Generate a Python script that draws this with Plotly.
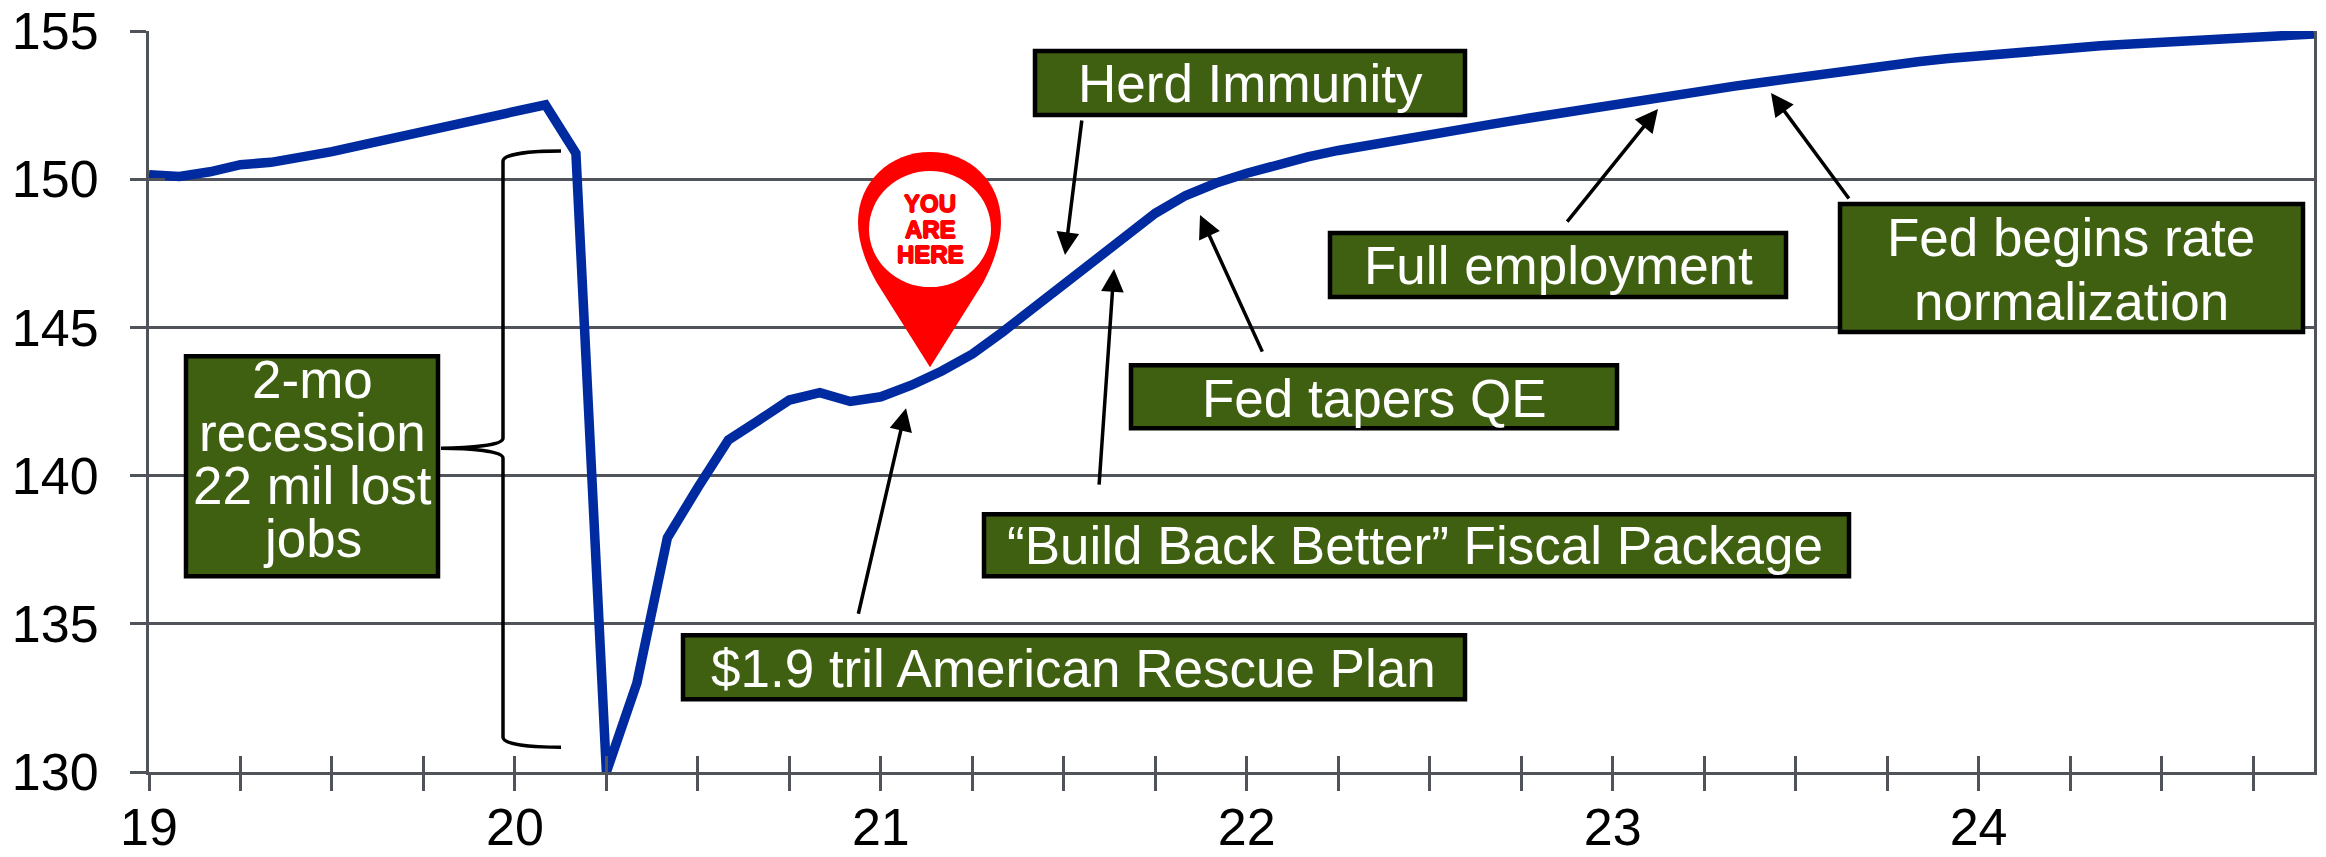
import plotly.graph_objects as go

W, H = 2326, 857
L, R, T, B = 149.0, 2314.0, 31.0, 771.7

# Monthly level, Jan 2019 to Dec 2024
months = list(range(72))
level = [150.15, 150.09, 150.25, 150.49, 150.57, 150.73, 150.93, 151.16, 151.38, 151.61, 151.87, 152.04,
         152.28, 152.51, 150.88, 130.0, 133.0, 137.9, 139.6, 141.2, 141.87, 142.55, 142.8, 142.5,
         142.66, 143.05, 143.53, 144.1, 144.85, 145.65, 146.45, 147.3, 148.13, 148.85, 149.45, 149.87,
         150.2, 150.5, 150.75, 150.97, 151.16, 151.33, 151.5, 151.66, 151.85, 152.02, 152.19, 152.36,
         152.53, 152.66, 152.82, 152.98, 153.14, 153.28, 153.43, 153.58, 153.72, 153.84, 153.96, 154.07,
         154.17, 154.27, 154.35, 154.43, 154.5, 154.56, 154.62, 154.68, 154.73, 154.78, 154.84, 154.9]
x_ticks = list(range(0, 72, 3))
x_labels = ["19" if m == 0 else str(19 + m // 12) if m % 12 == 0 else "" for m in x_ticks]
y_ticks = [130, 135, 140, 145, 150, 155]

FONT = "Liberation Sans"
GREEN = "#3F5F11"
GRID = "#50545A"
BLUE = "#002A9F"
FS = 53
AXW = 3


def px(x):
    return (x - L) / (R - L)


def py(y):
    return (B - y) / (B - T)


def dx(x):
    return (x - L) / (R - L) * 71


def dy(y):
    return 130 + (B - y) / (B - T) * 25


# label boxes: left, top, right, bottom in page pixels
boxes = [
    (1035, 51, 1465, 115),
    (1330, 233, 1786, 297),
    (1840, 204, 2303, 332),
    (1131, 365, 1617, 428),
    (984, 514, 1849, 576),
    (683, 635, 1465, 699),
    (186, 356, 438, 576),
]
# text lines: text, centre x, centre y
labels = [
    ("Herd Immunity", 1250, 83),
    ("Full employment", 1558, 265),
    ("Fed begins rate", 2071, 237),
    ("normalization", 2071, 301),
    ("Fed tapers QE", 1374, 398),
    ("\u201cBuild Back Better\u201d Fiscal Package", 1415, 545),
    ("$1.9 tril American Rescue Plan", 1073, 668),
    ("2-mo", 312, 379),
    ("recession", 312, 432),
    ("22 mil lost", 312, 485),
    ("jobs", 312, 538),
]
# arrows: tail x, tail y, tip x, tip y
arrows = [
    (1082, 119, 1065, 255),
    (1099, 486, 1114, 269),
    (1263, 353, 1200, 215),
    (1566, 223, 1658, 109),
    (1850, 200, 1771, 93),
    (858, 615, 906, 408),
]
pin_lines = [("YOU", 203.5), ("ARE", 229), ("HERE", 254)]


def path(cmds):
    out = []
    for c in cmds:
        op, pts = c[0], c[1:]
        out.append(op + " ".join(f"{px(a):.5f},{py(b):.5f}" for a, b in pts))
    return " ".join(out)


fig = go.Figure()
fig.add_trace(go.Scatter(x=months, y=level, mode="lines", cliponaxis=False,
                         line=dict(color=BLUE, width=9.5), hoverinfo="skip", showlegend=False))
fig.add_trace(go.Scatter(x=months, y=level, mode="lines", xaxis="x2", yaxis="y2", opacity=0,
                         hoverinfo="skip", showlegend=False))

shapes = []
bracket = path([
    ("M", (561, 151)), ("C", (530, 151), (503, 154), (503, 161)),
    ("L", (503, 438)), ("C", (503, 445), (470, 448), (441, 448)),
    ("C", (470, 448), (503, 451), (503, 458)),
    ("L", (503, 737)), ("C", (503, 744), (530, 747), (561, 747)),
])
shapes.append(dict(type="path", path=bracket, xref="paper", yref="paper", layer="above",
                   line=dict(color="black", width=3.5)))
for x0, y0, x1, y1 in boxes:
    shapes.append(dict(type="rect", xref="paper", yref="paper", x0=px(x0), x1=px(x1), y0=py(y1), y1=py(y0),
                       fillcolor=GREEN, line=dict(color="black", width=4.5), layer="above"))
pin = path([
    ("M", (930, 367)), ("L", (877, 283)), ("C", (864, 260), (858, 240), (858, 222)),
    ("C", (858, 182), (890, 152), (930, 152)), ("C", (970, 152), (1001, 182), (1001, 222)),
    ("C", (1001, 240), (995, 260), (983, 283)), ("Z",),
])
shapes.append(dict(type="path", path=pin, xref="paper", yref="paper", layer="above",
                   fillcolor="#FF0000", line=dict(width=0)))
shapes.append(dict(type="circle", xref="paper", yref="paper", layer="above",
                   x0=px(869), x1=px(991), y0=py(287), y1=py(171), fillcolor="white", line=dict(width=0)))

ann = []
for text, cx, cy in labels:
    ann.append(dict(text=text, x=px(cx), y=py(cy), xref="paper", yref="paper", showarrow=False,
                    xanchor="center", yanchor="middle", font=dict(family=FONT, size=FS, color="white")))
for text, cy in pin_lines:
    ann.append(dict(text=f"<b>{text}</b>", x=px(930), y=py(cy), xref="paper", yref="paper", showarrow=False,
                    xanchor="center", yanchor="middle",
                    font=dict(family=FONT, size=24, color="#FF0000",
                              shadow="0.8px 0 0 #FF0000, -0.8px 0 0 #FF0000, 0 0.6px 0 #FF0000, 0 -0.6px 0 #FF0000")))
for x0, y0, x1, y1 in arrows:
    ann.append(dict(text="", x=dx(x1), y=dy(y1), ax=dx(x0), ay=dy(y0), xref="x", yref="y", axref="x", ayref="y",
                    showarrow=True, arrowhead=2, arrowsize=1.3, arrowwidth=3.5, arrowcolor="black",
                    standoff=0, startstandoff=0))

tickfont = dict(family=FONT, size=52, color="black")
fig.update_layout(
    width=W, height=H, autosize=False, showlegend=False,
    paper_bgcolor="white", plot_bgcolor="white",
    margin=dict(l=L, r=W - R, t=T, b=H - B, pad=0, autoexpand=False),
    shapes=shapes, annotations=ann, hovermode=False,
    xaxis=dict(range=[0, 71], tickmode="array", tickvals=x_ticks, ticktext=x_labels, ticks="outside",
               ticklen=16, tickwidth=AXW, tickcolor=GRID, showgrid=False, zeroline=False, showline=True,
               linecolor=GRID, linewidth=AXW, tickfont=tickfont, ticklabelstandoff=-8, tickangle=0),
    yaxis=dict(range=[130, 155], tickmode="array", tickvals=y_ticks, ticks="outside", ticklen=16, tickwidth=AXW,
               tickcolor=GRID, showgrid=True, gridcolor=GRID, gridwidth=AXW, zeroline=False, showline=True,
               mirror=True, linecolor=GRID, linewidth=AXW, tickfont=tickfont, ticklabelstandoff=21),
    xaxis2=dict(range=[0, 71], overlaying="x", anchor="y", side="bottom", tickmode="array", tickvals=x_ticks,
                showticklabels=False, ticks="inside", ticklen=16, tickwidth=AXW, tickcolor=GRID,
                showgrid=False, zeroline=False, showline=False),
    yaxis2=dict(range=[130, 155], overlaying="y", anchor="x", side="left", tickmode="array", tickvals=y_ticks,
                showticklabels=False, ticks="inside", ticklen=16, tickwidth=AXW, tickcolor=GRID,
                showgrid=False, zeroline=False, showline=False),
)
fig.write_html("out.html", config={"displayModeBar": False}, post_script="document.body.style.margin='0';")
